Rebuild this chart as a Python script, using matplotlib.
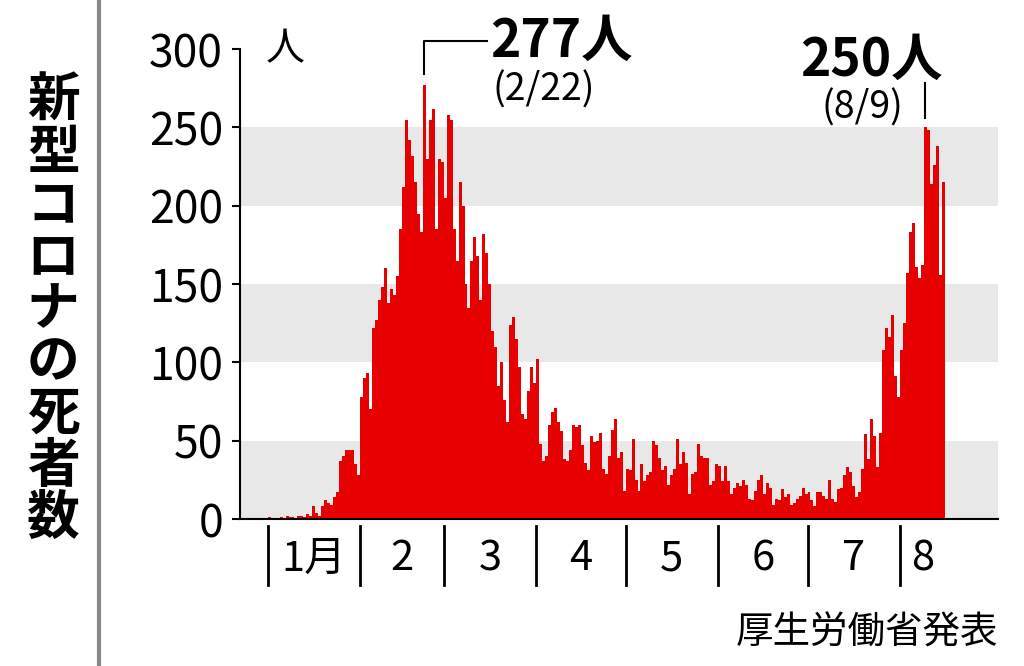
import numpy as np
import matplotlib
matplotlib.use("Agg")
import matplotlib.pyplot as plt
from matplotlib.transforms import blended_transform_factory

plt.rcParams['font.family'] = ['Noto Sans CJK JP', 'DejaVu Sans']

# daily deaths, Jan 1 - Aug 15
jan = [1,0,0,0,1,0,2,1,1,0,2,2,1,3,2,8,4,2,8,12,10,9,14,17,37,40,44,44,44,35,28]
feb = [78,90,93,70,122,127,140,148,160,138,147,143,155,185,212,255,242,232,215,195,183,277,230,255,262,185,230,228]
mar_early = [205,258,255,185,165,215,200,150,135,165,180,168,140,182,170,150,120,110,85,100]
mid = [76,62,124,129,115,97,67,64,82,97,
       87,102,48,37,40,60,68,71,62,56,
       38,37,44,60,59,60,47,36,31,53,
       49,50,55,32,29,40,57,64,39,43,
       18,32,31,51,25,18,35,24,28,30,
       50,47,39,31,34,22,28,32,51,35,
       43,36,16,29,30,48,40,39,39,22,
       24,35,34,24,34,24,16,20,23,21,
       25,22,13,12,18,25,28,16,23,20,
       9,13,12,19,14,16,9,10,13,15]
late = [20,16,17,12,8,17,17,15,13,25,
        13,11,19,20,28,33,30,21,14,17,
        32,54,38,64,53,33,55,108,122,116,
        130,91,78,108,125,157,183,189,161,154,
        162,250,248,214,226,238,156,215]
deaths = np.array(jan + feb + mar_early + mid + late)
month_days = [31, 28, 31, 30, 31, 30, 31]
month_labels = ['1月', '2', '3', '4', '5', '6', '7', '8']

fig = plt.figure(figsize=(10.24, 6.66), dpi=100)
ax = fig.add_axes([0.234, 0.2207, 0.741, 0.7057])
for lo in (0, 100, 200):
    ax.axhspan(lo, lo + 50, color='#e8e8e8', zorder=0, lw=0)
ax.bar(np.arange(len(deaths)), deaths, width=1.0, color='#e60000', zorder=2, lw=0)
ax.set_xlim(-9.9, 244.5)
ax.set_ylim(0, 300)
for s in ('top', 'right'):
    ax.spines[s].set_visible(False)
ax.spines['left'].set_linewidth(1.5)
ax.spines['bottom'].set_linewidth(1.5)
ax.set_xticks([])
ax.set_yticks(range(0, 301, 50))
ax.tick_params(axis='y', labelsize=32, length=6, width=1.5, pad=6)

# month separators and labels
tr = blended_transform_factory(ax.transData, ax.transAxes)
bounds = np.concatenate([[0], np.cumsum(month_days)])
for b in bounds:
    ax.plot([b - 0.5, b - 0.5], [-0.015, -0.14], transform=tr, color='black', lw=2, clip_on=False)
ends = list(bounds) + [len(deaths)]
for i, lab in enumerate(month_labels):
    cx = (ends[i] + ends[i + 1]) / 2 - 0.5
    ax.text(cx, -0.085, lab, transform=tr, ha='center', va='center', fontsize=30)

ax.text(-1, 300, '人', fontsize=28, va='center', ha='left')

# annotations
i277 = int(np.argmax(deaths[:100]))
ax.plot([i277, i277, i277 + 21], [284, 305, 305], color='black', lw=1.5, clip_on=False)
ax.text(i277 + 22, 305, '277人', fontsize=37, fontweight='bold', va='center', ha='left')
ax.text(i277 + 23, 274, '(2/22)', fontsize=27, va='center', ha='left')
i250 = 220
ax.plot([i250, i250], [256, 278], color='black', lw=1.5, clip_on=False)
ax.text(i250 - 18, 293, '250人', fontsize=37, fontweight='bold', va='center', ha='center')
ax.text(i250 - 21, 262, '(8/9)', fontsize=27, va='center', ha='center')

# left title and source
fig.text(0.052, 0.535, '\n'.join('新型コロナの死者数'), fontsize=38, fontweight='bold',
         ha='center', va='center', linespacing=0.98)
fig.add_artist(plt.Line2D([0.097, 0.097], [0, 1], color='#888888', lw=3))
fig.text(0.975, 0.05, '厚生労働省発表', fontsize=27, ha='right', va='center')

fig.savefig('out.png', dpi=100)
